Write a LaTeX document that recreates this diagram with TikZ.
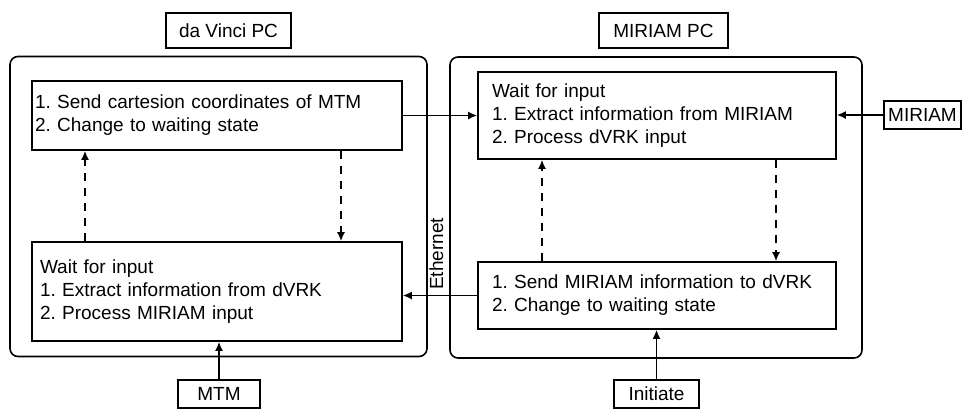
\documentclass[tikz,border=0pt]{standalone}
\usepackage{fontspec}
\setmainfont{Liberation Sans}
\usetikzlibrary{arrows.meta,positioning}
\tikzset{
	line/.style={draw, thick, -{Latex[length=4.5pt,width=4pt]}},
	dline/.style={line, dash pattern=on 4pt off 3.5pt},
	lbl/.style={draw, thick, inner sep=0pt, minimum height=14pt},
	pc/.style={draw, thick, rounded corners=4pt, inner sep=0pt},
	proc/.style={draw, thick, align=left, inner ysep=0pt}
}
\frenchspacing

\begin{document}
\begin{tikzpicture}[x=0.5pt, y=-0.5pt, font=\fontsize{9.5}{11.5}\selectfont]
        \useasboundingbox (0,0) rectangle (968,409);
        % the two computers
        \node[pc, minimum width=208.5pt, minimum height=150pt] (dvpc) at (218.5,206.5) {};
        \node[pc, minimum width=206pt, minimum height=150.5pt] (mpc) at (656,207.5) {};
        \node[lbl, minimum width=62.5pt, minimum height=17.5pt] (davinci) at (228.5,30.5) {da Vinci PC};
        \node[lbl, minimum width=64.5pt, minimum height=17.5pt] (miriampc) at (663.5,30.5) {MIRIAM PC};
        % states
        \node[proc, text width=182pt, inner xsep=1.5pt, minimum height=34.5pt] (tl) at (217,115.5) {
            1. Send cartesion coordinates of MTM\\
            2. Change to waiting state
        };
        \node[proc, text width=177pt, inner xsep=4pt, minimum height=49.5pt] (bl) at (217,291.5) {
            Wait for input\\
            1. Extract information from dVRK\\
            2. Process MIRIAM input
        };
        \node[proc, text width=165pt, inner xsep=7pt, minimum height=43.5pt] (tr) at (657,115.5) {
            Wait for input\\
            1. Extract information from MIRIAM\\
            2. Process dVRK input
        };
        \node[proc, text width=165pt, inner xsep=7pt, minimum height=33.5pt] (br) at (657,295.5) {
            1. Send MIRIAM information to dVRK\\
            2. Change to waiting state
        };
        % inputs
        \node[lbl, minimum width=38.5pt] (miriam) at (922.5,115) {MIRIAM};
        \node[lbl, minimum width=41pt] (mtm) at (219,394) {MTM};
        \node[lbl, minimum width=42.5pt] (initiate) at (656.5,394) {Initiate};
        % connections
        \draw[line] (tl.east) -- (tl.east -| tr.west);
        \draw[line] (miriam.west) -- (miriam.west -| tr.east);
        \draw[line] (br.west) -- node[pos=0.55, rotate=90, anchor=west, inner sep=2.5pt] (eth) {Ethernet} (br.west -| bl.east);
        \draw[line] (mtm.north) -- (mtm.north |- bl.south);
        \draw[line] (initiate.north) -- (initiate.north |- br.south);
        \draw[dline] ([xshift=62pt]tl.south) -- ([xshift=62pt]tl.south |- bl.north);
        \draw[dline] ([xshift=-66pt]bl.north) -- ([xshift=-66pt]bl.north |- tl.south);
        \draw[dline] ([xshift=59.5pt]tr.south) -- ([xshift=59.5pt]tr.south |- br.north);
        \draw[dline] ([xshift=-57.5pt]br.north) -- ([xshift=-57.5pt]br.north |- tr.south);
\end{tikzpicture}
\end{document}
